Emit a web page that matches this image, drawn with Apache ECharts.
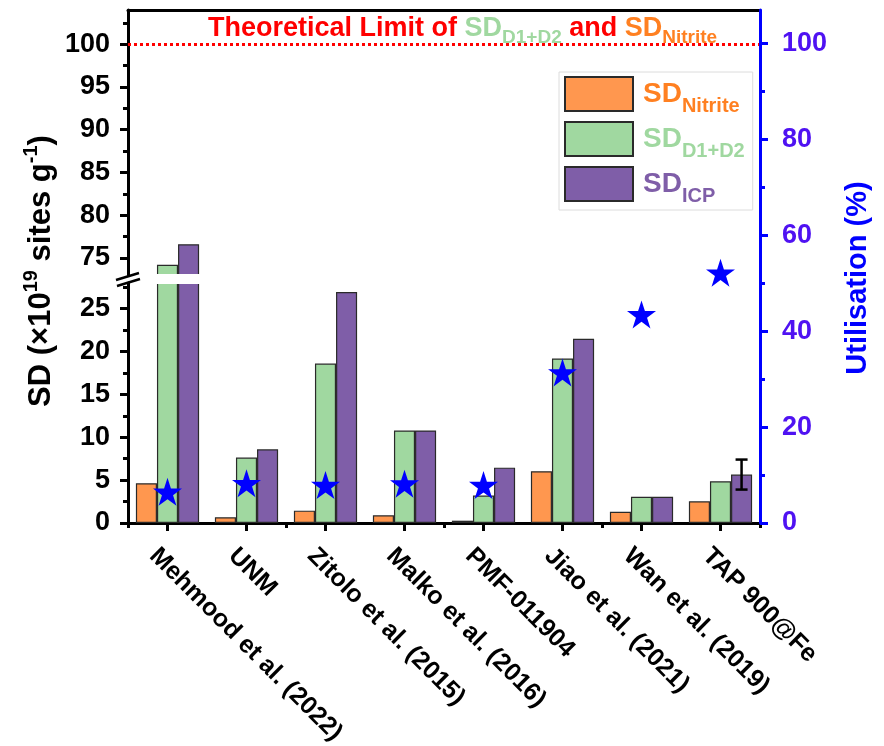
<!DOCTYPE html>
<html>
<head>
<meta charset="utf-8">
<script src="https://cdn.jsdelivr.net/npm/echarts@6/dist/echarts.min.js"></script>
<style>
html, body { margin: 0; padding: 0; background: #fff; }
#chart { width: 884px; height: 746px; }
</style>
</head>
<body>
<div id="chart"></div>
<script>
// Site density per catalyst (x10^19 sites g^-1) and site utilisation (%)
const categories = ['Mehmood et al. (2022)', 'UNM', 'Zitolo et al. (2015)', 'Malko et al. (2016)',
  'PMF-011904', 'Jiao et al. (2021)', 'Wan et al. (2019)', 'TAP 900@Fe'];
const sdNitrite = [4.64, 0.67, 1.44, 0.9, 0.27, 6.04, 1.32, 2.53];
const sdD1D2 = [74.2, 7.63, 18.6, 10.8, 3.2, 19.2, 3.07, 4.87];
const sdICP = [76.6, 8.6, 26.95, 10.8, 6.46, 21.5, 3.07, 5.65];
const sdICPError = [null, null, null, null, null, null, null, 1.75];
const utilisation = [6.5, 8.3, 7.9, 8.2, 7.9, 31.4, 43.5, 52.2];
const theoreticalLimit = 100;

// Broken left axis: lower segment and upper segment
const lowerRange = [0, 28];
const upperRange = [73, 104];
const lowerTicks = [0, 5, 10, 15, 20, 25];
const lowerMinorTicks = [2.5, 7.5, 12.5, 17.5, 22.5, 27.5];
const upperTicks = [75, 80, 85, 90, 95, 100];
const upperMinorTicks = [77.5, 82.5, 87.5, 92.5, 97.5, 102.5];
const utilRange = [0, 107];
const utilTicks = [0, 20, 40, 60, 80, 100];
const utilMinorTicks = [10, 30, 50, 70, 90];

const FONT = '"Liberation Sans", Arial, Helvetica, sans-serif';
const C = {
  nitrite: '#FF974F', d1d2: '#A0D8A0', icp: '#7F5EA8',
  nitriteText: '#FF8021', d1d2Text: '#A0D8A0', icpText: '#7F5EA8',
  border: '#2a2a2a', util: '#0000FF', utilLabel: '#4F12F2'
};

const seriesDefs = [
  { name: 'SD_Nitrite', data: sdNitrite, color: C.nitrite },
  { name: 'SD_D1+D2', data: sdD1D2, color: C.d1d2 },
  { name: 'SD_ICP', data: sdICP, color: C.icp }
];

const GRID_L = 128, GRID_R = 124, TOP = 10, UPPER_H = 265, LOWER_TOP = 283, LOWER_H = 240;
const CHART_W = 884;

function valueAxis(gridIndex, range, ticks, opts) {
  return Object.assign({
    type: 'value', gridIndex, min: range[0], max: range[1], position: 'left',
    splitLine: { show: false },
    axisLine: { show: true, lineStyle: { color: '#000', width: 3 } },
    axisTick: { show: true, customValues: ticks, length: 8, lineStyle: { color: '#000', width: 3 } },
    axisLabel: { show: true, customValues: ticks, margin: 18, color: '#000',
      fontFamily: FONT, fontWeight: 'bold', fontSize: 27 }
  }, opts || {});
}
function minorAxis(gridIndex, range, ticks, color, position) {
  return {
    type: 'value', gridIndex, min: range[0], max: range[1], position: position || 'left',
    splitLine: { show: false },
    axisLine: { show: false },
    axisTick: { show: true, customValues: ticks, length: 5, lineStyle: { color: color || '#000', width: 3 } },
    axisLabel: { show: false }
  };
}

const barCommon = {
  type: 'bar', barGap: '0%', barCategoryGap: '20%', clip: true
};

const series = [];
// Upper segment bars
seriesDefs.forEach((s, i) => {
  series.push(Object.assign({}, barCommon, {
    name: s.name, xAxisIndex: 0, yAxisIndex: 0, data: s.data,
    itemStyle: { color: s.color, borderColor: C.border, borderWidth: 1.2 },
    markLine: i === 0 ? {
      silent: true, symbol: 'none', label: { show: false },
      lineStyle: { color: '#FF0000', width: 3, type: [3, 3] },
      data: [{ yAxis: theoreticalLimit }]
    } : undefined
  }));
});
// Lower segment bars
seriesDefs.forEach((s) => {
  series.push(Object.assign({}, barCommon, {
    name: s.name, xAxisIndex: 1, yAxisIndex: 2, data: s.data,
    itemStyle: { color: s.color, borderColor: C.border, borderWidth: 1.2 }
  }));
});
// Error bar on the ICP bar
const errData = [];
sdICPError.forEach((e, i) => { if (e != null) errData.push([i, sdICP[i], e]); });
series.push({
  type: 'custom', xAxisIndex: 1, yAxisIndex: 2, z: 4, data: errData,
  renderItem(params, api) {
    const x = api.value(0), y = api.value(1), e = api.value(2);
    const band = api.size([1, 0])[0];
    const barW = band * 0.8 / 3;
    const top = api.coord([x, y + e]);
    const bot = api.coord([x, y - e]);
    const cx = top[0] + barW;
    const cap = 6;
    const st = { stroke: '#000', lineWidth: 2.5 };
    return { type: 'group', children: [
      { type: 'line', shape: { x1: cx, y1: top[1], x2: cx, y2: bot[1] }, style: st },
      { type: 'line', shape: { x1: cx - cap, y1: top[1], x2: cx + cap, y2: top[1] }, style: st },
      { type: 'line', shape: { x1: cx - cap, y1: bot[1], x2: cx + cap, y2: bot[1] }, style: st }
    ] };
  }
});
// Utilisation stars on the right axis
const STAR = 'path://M50,0L61.2,34.5L97.6,34.5L68.2,55.9L79.4,90.5L50,69.1L20.6,90.5L31.8,55.9L2.4,34.5L38.8,34.5Z';
series.push({
  name: 'Utilisation', type: 'scatter', xAxisIndex: 3, yAxisIndex: 4, z: 6,
  symbol: STAR, symbolSize: [29, 28], data: utilisation,
  itemStyle: { color: C.util, opacity: 1 }
});

const legendRich = {
  om: { fontFamily: FONT, fontWeight: 'bold', fontSize: 28, lineHeight: 28, color: C.nitriteText, padding: [0, 0, 0, 5] },
  os: { fontFamily: FONT, fontWeight: 'bold', fontSize: 20, lineHeight: 20, color: C.nitriteText, padding: [24, 0, 0, 0] },
  gm: { fontFamily: FONT, fontWeight: 'bold', fontSize: 28, lineHeight: 28, color: C.d1d2Text, padding: [0, 0, 0, 5] },
  gs: { fontFamily: FONT, fontWeight: 'bold', fontSize: 20, lineHeight: 20, color: C.d1d2Text, padding: [24, 0, 0, 0] },
  pm: { fontFamily: FONT, fontWeight: 'bold', fontSize: 28, lineHeight: 28, color: C.icpText, padding: [0, 0, 0, 5] },
  ps: { fontFamily: FONT, fontWeight: 'bold', fontSize: 20, lineHeight: 20, color: C.icpText, padding: [24, 0, 0, 0] }
};
const legendKeys = { 'SD_Nitrite': ['o', 'Nitrite'], 'SD_D1+D2': ['g', 'D1+D2'], 'SD_ICP': ['p', 'ICP'] };

// zrender rich styles for graphic text use "fill"
const titleRich = {
  r: { fontFamily: FONT, fontWeight: 'bold', fontSize: 27, lineHeight: 27, fill: '#FF0000' },
  g: { fontFamily: FONT, fontWeight: 'bold', fontSize: 27, lineHeight: 27, fill: C.d1d2Text },
  gs: { fontFamily: FONT, fontWeight: 'bold', fontSize: 19, lineHeight: 19, fill: C.d1d2Text, padding: [18, 0, 0, 0] },
  o: { fontFamily: FONT, fontWeight: 'bold', fontSize: 27, lineHeight: 27, fill: C.nitriteText },
  os: { fontFamily: FONT, fontWeight: 'bold', fontSize: 19, lineHeight: 19, fill: C.nitriteText, padding: [18, 0, 0, 0] }
};
const yTitleRich = {
  m: { fontFamily: FONT, fontWeight: 'bold', fontSize: 31, lineHeight: 31, fill: '#000' },
  s: { fontFamily: FONT, fontWeight: 'bold', fontSize: 20, lineHeight: 20, fill: '#000', padding: [0, 0, 20, 0] }
};

const option = {
  animation: false,
  backgroundColor: '#fff',
  grid: [
    { left: GRID_L, right: GRID_R, top: TOP, height: UPPER_H, outerBoundsMode: 'none', containLabel: false },
    { left: GRID_L, right: GRID_R, top: LOWER_TOP, height: LOWER_H, outerBoundsMode: 'none', containLabel: false },
    { left: GRID_L, right: GRID_R, top: TOP, height: LOWER_TOP + LOWER_H - TOP, outerBoundsMode: 'none', containLabel: false }
  ],
  xAxis: [
    { type: 'category', gridIndex: 0, data: categories, position: 'top',
      axisLine: { show: true, lineStyle: { color: '#000', width: 3 } },
      axisTick: { show: false }, axisLabel: { show: false } },
    { type: 'category', gridIndex: 1, data: categories, position: 'bottom',
      axisLine: { show: true, lineStyle: { color: '#000', width: 3 } },
      axisTick: { show: true, alignWithLabel: true, length: 8, lineStyle: { color: '#000', width: 3 } },
      axisLabel: { show: true, interval: 0, rotate: -45, margin: 15, color: '#000',
        verticalAlign: 'top', lineHeight: 40,
        fontFamily: FONT, fontWeight: 'bold', fontSize: 25 } },
    { type: 'category', gridIndex: 1, data: categories, position: 'bottom',
      axisLine: { show: false },
      axisTick: { show: true, length: 5, lineStyle: { color: '#000', width: 3 } },
      axisLabel: { show: false } },
    { type: 'category', gridIndex: 2, data: categories, show: false }
  ],
  yAxis: [
    valueAxis(0, upperRange, upperTicks),
    minorAxis(0, upperRange, upperMinorTicks),
    valueAxis(1, lowerRange, lowerTicks),
    minorAxis(1, lowerRange, lowerMinorTicks),
    valueAxis(2, utilRange, utilTicks, {
      position: 'right', z: 5,
      axisLine: { show: true, lineStyle: { color: C.util, width: 3 } },
      axisTick: { show: true, customValues: utilTicks, length: 8, lineStyle: { color: C.util, width: 3 } },
      axisLabel: { show: true, customValues: utilTicks, margin: 22, color: C.utilLabel,
        fontFamily: FONT, fontWeight: 'bold', fontSize: 27 }
    }),
    Object.assign(minorAxis(2, utilRange, utilMinorTicks, C.util, 'right'), { z: 5 })
  ],
  legend: {
    orient: 'vertical', left: 559, top: 72,
    padding: [0, 8, 4, 5], itemGap: 1, itemWidth: 68, itemHeight: 34,
    borderColor: '#dcdcdc', borderWidth: 1, backgroundColor: '#fff',
    selectedMode: false, icon: 'rect',
    data: ['SD_Nitrite', 'SD_D1+D2', 'SD_ICP'],
    formatter: (name) => {
      const k = legendKeys[name];
      return '{' + k[0] + 'm|SD}{' + k[0] + 's|' + k[1] + '}';
    },
    textStyle: { rich: legendRich }
  },
  graphic: [
    { type: 'text', x: 208, y: 29, z: 10,
      style: { text: '{r|Theoretical Limit of }{g|SD}{gs|D1+D2}{r| and }{o|SD}{os|Nitrite}',
        rich: titleRich, verticalAlign: 'middle', align: 'left' } },
    { type: 'text', x: 41, y: 271, rotation: Math.PI / 2, z: 10,
      style: { text: '{m|SD (×10}{s|19}{m| sites g}{s|-1}{m|)}', rich: yTitleRich,
        align: 'center', verticalAlign: 'middle' } },
    { type: 'text', x: 858, y: 278, rotation: Math.PI / 2, z: 10,
      style: { text: 'Utilisation (%)', fill: C.util, fontFamily: FONT, fontWeight: 'bold',
        fontSize: 29, align: 'center', verticalAlign: 'middle' } },
    // white band hiding bar edges across the axis break
    { type: 'rect', z: 3, silent: true,
      shape: { x: GRID_L + 2, y: TOP + UPPER_H - 1, width: CHART_W - GRID_L - GRID_R - 4, height: LOWER_TOP - TOP - UPPER_H + 2 },
      style: { fill: '#fff' } },
    // axis break marks
    { type: 'line', z: 10, shape: { x1: 116, y1: 280, x2: 139, y2: 273 }, style: { stroke: '#000', lineWidth: 2.5 } },
    { type: 'line', z: 10, shape: { x1: 117, y1: 286, x2: 140, y2: 279 }, style: { stroke: '#000', lineWidth: 2.5 } }
  ],
  series
};

const chart = echarts.init(document.getElementById('chart'), null, { renderer: 'canvas' });
chart.setOption(option);
</script>
</body>
</html>
